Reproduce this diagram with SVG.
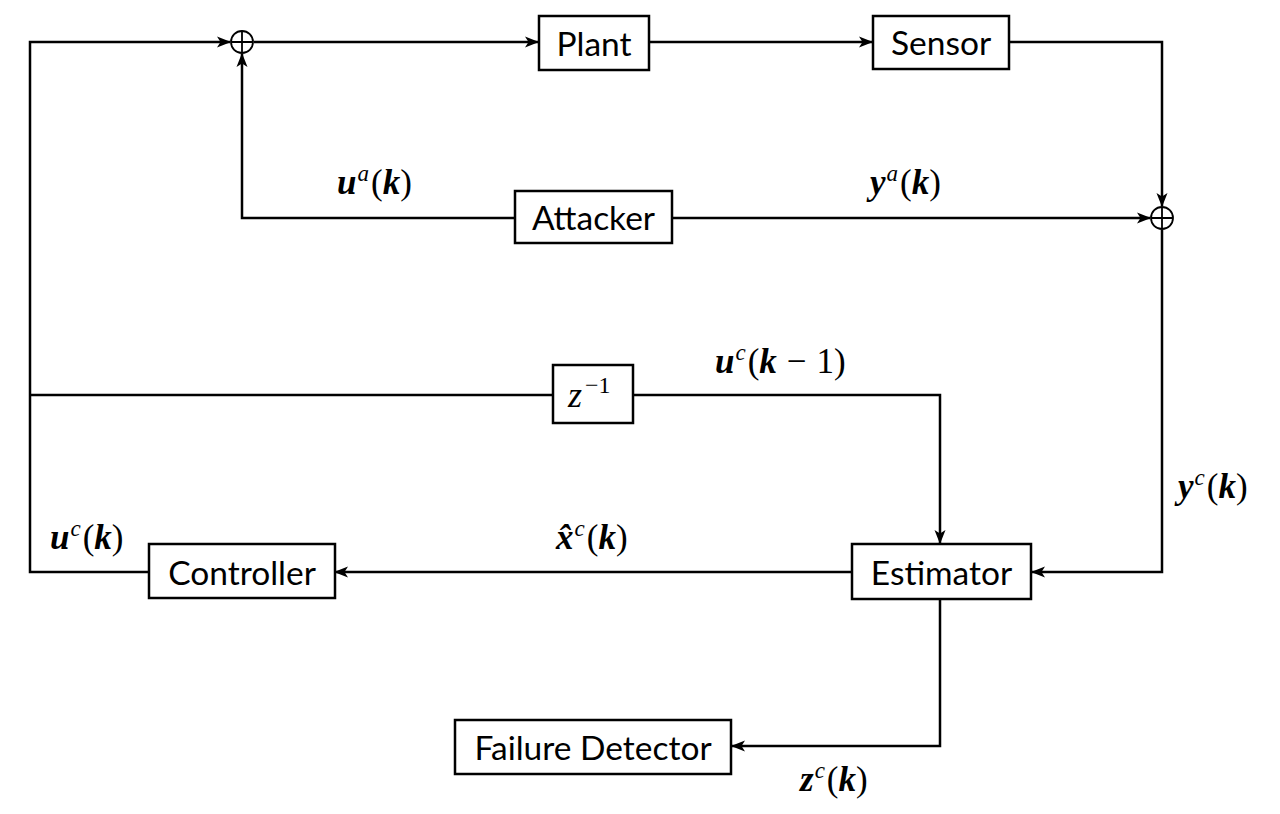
<svg xmlns="http://www.w3.org/2000/svg" width="1280" height="814" viewBox="0 0 1280 814">
<style>
.box{fill:#fff;stroke:#000;stroke-width:2.5}
.lbl{font-family:Lato,"Open Sans",sans-serif;font-size:33.5px;fill:#000;text-anchor:middle;dominant-baseline:central}
.wire{fill:none;stroke:#000;stroke-width:2.5}
.sum{fill:none;stroke:#000;stroke-width:1.8}
.m{font-family:"Liberation Serif","DejaVu Serif",serif;font-size:35px;font-style:italic;font-weight:bold;fill:#000}
.m .r{font-style:normal;font-weight:normal}
.m .s{font-size:23px;font-weight:normal}
</style>
<defs>
<marker id="ah" viewBox="0 0 14 12" refX="13" refY="6" markerWidth="14" markerHeight="12" markerUnits="userSpaceOnUse" orient="auto">
<path d="M0,0.5 L14,6 L0,11.5 L3.5,6 Z" fill="#000"/>
</marker>
</defs>
<g id="connectors">
<path class="wire" d="M149,572 H30 V42 H230" marker-end="url(#ah)"/>
<path class="wire" d="M254,42 H538" marker-end="url(#ah)"/>
<path class="wire" d="M649,42 H872" marker-end="url(#ah)"/>
<path class="wire" d="M1009,42 H1162 V206" marker-end="url(#ah)"/>
<path class="wire" d="M515,218 H242 V54" marker-end="url(#ah)"/>
<path class="wire" d="M672,218 H1150" marker-end="url(#ah)"/>
<path class="wire" d="M1162,230 V572 H1032" marker-end="url(#ah)"/>
<path class="wire" d="M30,395 H553"/>
<path class="wire" d="M633,395 H940 V543" marker-end="url(#ah)"/>
<path class="wire" d="M852,572 H335" marker-end="url(#ah)"/>
<path class="wire" d="M940,599 V746 H732" marker-end="url(#ah)"/>
</g>
<g id="sum1"><circle class="sum" cx="242" cy="42" r="11"/><path class="sum" d="M231,42 H253 M242,31 V53"/></g>
<g id="sum2"><circle class="sum" cx="1162" cy="218" r="11"/><path class="sum" d="M1151,218 H1173 M1162,207 V229"/></g>
<g id="plant"><rect class="box" x="539" y="16" width="110" height="54"/><text class="lbl" x="594" y="43">Plant</text></g>
<g id="sensor"><rect class="box" x="873" y="16" width="136" height="53"/><text class="lbl" x="941" y="42">Sensor</text></g>
<g id="attacker"><rect class="box" x="515" y="191" width="157" height="52"/><text class="lbl" x="593.5" y="217">Attacker</text></g>
<g id="delay"><rect class="box" x="553" y="365" width="80" height="58"/><text x="568" y="407" style="font-family:'Liberation Serif','DejaVu Serif',serif;font-size:36px;font-style:italic;fill:#000">z<tspan dx="3" dy="-14" style="font-style:normal;font-size:24px">−1</tspan></text></g>
<g id="estimator"><rect class="box" x="852" y="544" width="179" height="55"/><text class="lbl" x="941.5" y="572">Estimator</text></g>
<g id="controller"><rect class="box" x="149" y="544" width="186" height="54"/><text class="lbl" x="242" y="572">Controller</text></g>
<g id="detector"><rect class="box" x="455" y="720" width="276" height="54"/><text class="lbl" x="593" y="747">Failure Detector</text></g>
<g id="labels">
<text class="m" x="337" y="194">u<tspan class="s" dx="1" dy="-13">a</tspan><tspan class="r" dx="2" dy="13">(</tspan>k<tspan class="r">)</tspan></text>
<text class="m" x="870" y="194">y<tspan class="s" dx="1" dy="-13">a</tspan><tspan class="r" dx="2" dy="13">(</tspan>k<tspan class="r">)</tspan></text>
<text class="m" x="715" y="373">u<tspan class="s" dx="1" dy="-13">c</tspan><tspan class="r" dx="2" dy="13">(</tspan>k<tspan class="r" dx="10">−</tspan><tspan class="r" dx="10">1)</tspan></text>
<text class="m" x="1178" y="498">y<tspan class="s" dx="1" dy="-13">c</tspan><tspan class="r" dx="2" dy="13">(</tspan>k<tspan class="r">)</tspan></text>
<text class="m" x="50" y="549">u<tspan class="s" dx="1" dy="-13">c</tspan><tspan class="r" dx="2" dy="13">(</tspan>k<tspan class="r">)</tspan></text>
<text class="m" x="556" y="549">x̂<tspan class="s" dx="1" dy="-13">c</tspan><tspan class="r" dx="2" dy="13">(</tspan>k<tspan class="r">)</tspan></text>
<text class="m" x="800" y="791">z<tspan class="s" dx="1" dy="-13">c</tspan><tspan class="r" dx="2" dy="13">(</tspan>k<tspan class="r">)</tspan></text>
</g>
</svg>
